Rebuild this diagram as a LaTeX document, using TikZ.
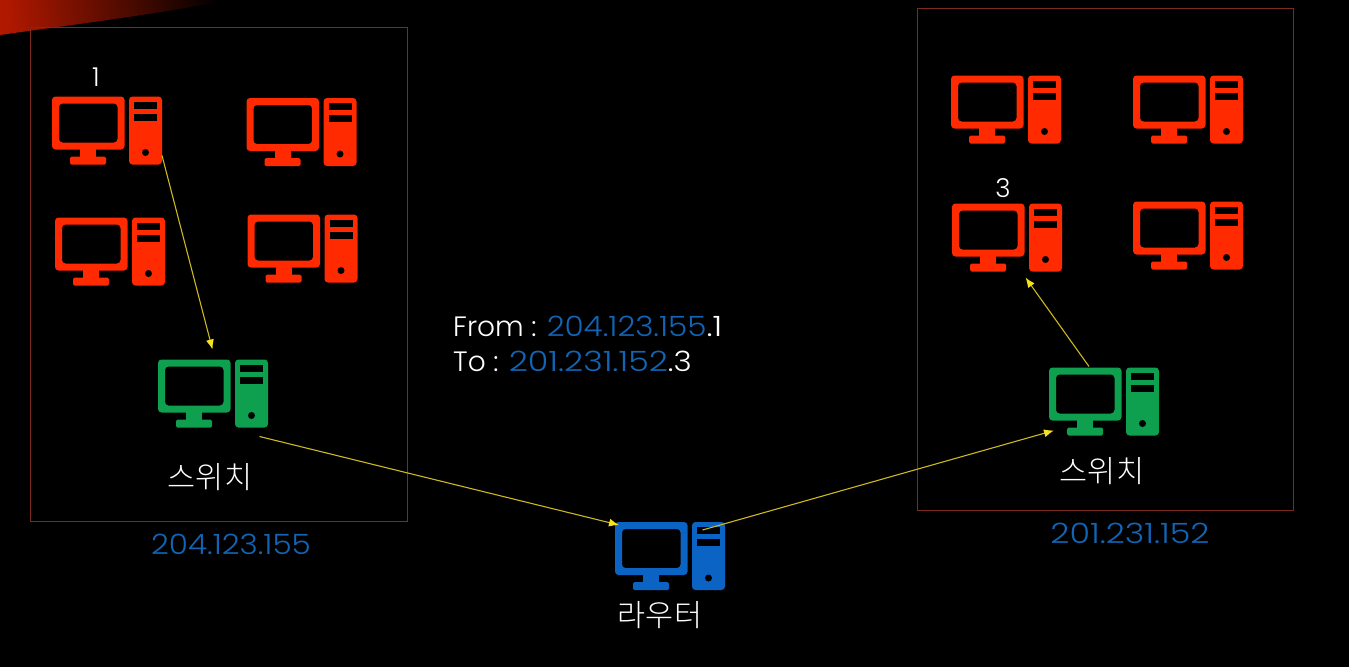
\documentclass[tikz,border=0pt]{standalone}
\usepackage{fontspec}
\setmainfont{Poppins Light}
\newfontfamily\krfont{Noto Sans CJK KR Light}
\newfontfamily\ipfont{Poppins Light}[FakeStretch=1.11]
\newfontfamily\ipfontwide{Poppins Light}[FakeStretch=1.19]
\usetikzlibrary{calc,arrows.meta}
\definecolor{pcred}{HTML}{FF2A00}
\definecolor{pcgreen}{HTML}{0E9F4F}
\definecolor{pcblue}{HTML}{0B63C4}
\definecolor{ipblue}{HTML}{1264B4}
\definecolor{boxred}{HTML}{7E2A1E}
\definecolor{link}{HTML}{CDB81E}
\definecolor{linkhead}{HTML}{F5E21A}
\definecolor{swooshA}{HTML}{B01800}
\definecolor{swooshB}{HTML}{8A1000}
\tikzset{
  computer/.style={rectangle,minimum width=111pt,minimum height=69pt,inner sep=0pt,outer sep=0pt},
  zone/.style={rectangle,draw=boxred,line width=1pt,inner sep=0pt,outer sep=0pt},
  link/.style={draw=link,line width=1.1pt,-{Latex[length=10pt,width=8pt,color=linkhead]}},
  label/.style={text=white,font=\krfont\fontsize{30.5}{30.5}\selectfont,inner sep=0pt},
  ip/.style={text=ipblue,font=\ipfont\fontsize{28}{28}\selectfont,inner sep=0pt},
  ipwide/.style={text=ipblue,font=\ipfontwide\fontsize{28}{28}\selectfont,inner sep=0pt},
  num/.style={text=white,font=\fontsize{26}{26}\selectfont,inner sep=0pt},
  msg/.style={text=white,font=\fontsize{28}{28}\selectfont,inner sep=0pt,anchor=west}
}
% colour, name, position
\newcommand{\pcicon}[3]{%
  \node[computer] (#2) at (#3) {};
  \begin{scope}[shift={(#2.north west)}]
    \fill[#1,even odd rule,rounded corners=3.5pt]
      (0,0) rectangle (72.5,53)
      (7,7) rectangle (65.5,46);
    \fill[#1] (28,52) rectangle (44,60);
    \fill[#1,rounded corners=1.5pt] (18,60) rectangle (54,68);
    \fill[#1,rounded corners=3.5pt] (77,0) rectangle (110,68);
    \fill[black] (82,5) rectangle (105,12);
    \fill[black] (82,17) rectangle (105,24);
    \fill[black] (93.5,56) circle (3.5pt);
  \end{scope}}
\begin{document}
\begin{tikzpicture}[x=1pt,y=-1pt]
\useasboundingbox (0,0) rectangle (1349,667);
\fill[black] (0,0) rectangle (1349,667);
% corner swoosh
\shade[left color=swooshA,middle color=swooshB,right color=black,shading angle=95]
  (0,0) -- (228,0) .. controls (160,14) and (70,25) .. (0,35) -- cycle;
% zones
\node[zone,minimum width=377pt,minimum height=494pt] (zoneL) at (218.5,274) {};
\node[zone,minimum width=376pt,minimum height=502pt] (zoneR) at (1105,259) {};
% computers
\pcicon{pcred}{a1}{107.5,131}
\pcicon{pcred}{a2}{302,132.5}
\pcicon{pcred}{a3}{110.5,252}
\pcicon{pcred}{a4}{303,249}
\pcicon{pcred}{b1}{1006.5,110}
\pcicon{pcred}{b2}{1188.5,110}
\pcicon{pcred}{b3}{1007.5,238}
\pcicon{pcred}{b4}{1188.5,236}
\pcicon{pcgreen}{swL}{213.5,394}
\pcicon{pcgreen}{swR}{1104.5,402}
\pcicon{pcblue}{rt}{670.5,556.5}
% links
\draw[link] ([shift={(-1,-10)}]a1.south east) -- ([shift={(-1,-10)}]swL.north);
\draw[link] ([shift={(46,8)}]swL.south) -- ([shift={(4,3)}]rt.north west);
\draw[link] ([shift={(32,8)}]rt.north) -- ([shift={(5,28.5)}]swR.west);
\draw[link] ([shift={(-15.5,-1)}]swR.north) -- ([shift={(18,5)}]b3.south);
% labels
\node[num] (n1) at (96,77) {1};
\node[num] (n3) at (1003,188) {3};
\node[label] (lL) at (210,477) {스위치};
\node[label] (lR) at (1102,471) {스위치};
\node[label] (lT) at (660,615) {라우터};
\node[ip] (ipL) at (231,544) {204.123.155};
\node[ipwide] (ipR) at (1130,533) {201.231.152};
\node[msg] (m1) at (453,326) {From : \textcolor{ipblue}{\ipfont 204.123.155}{\ipfontwide .1}};
\node[msg] (m2) at (453,361) {To : \textcolor{ipblue}{\ipfontwide 201.231.152}{\ipfont .3}};
\end{tikzpicture}
\end{document}
